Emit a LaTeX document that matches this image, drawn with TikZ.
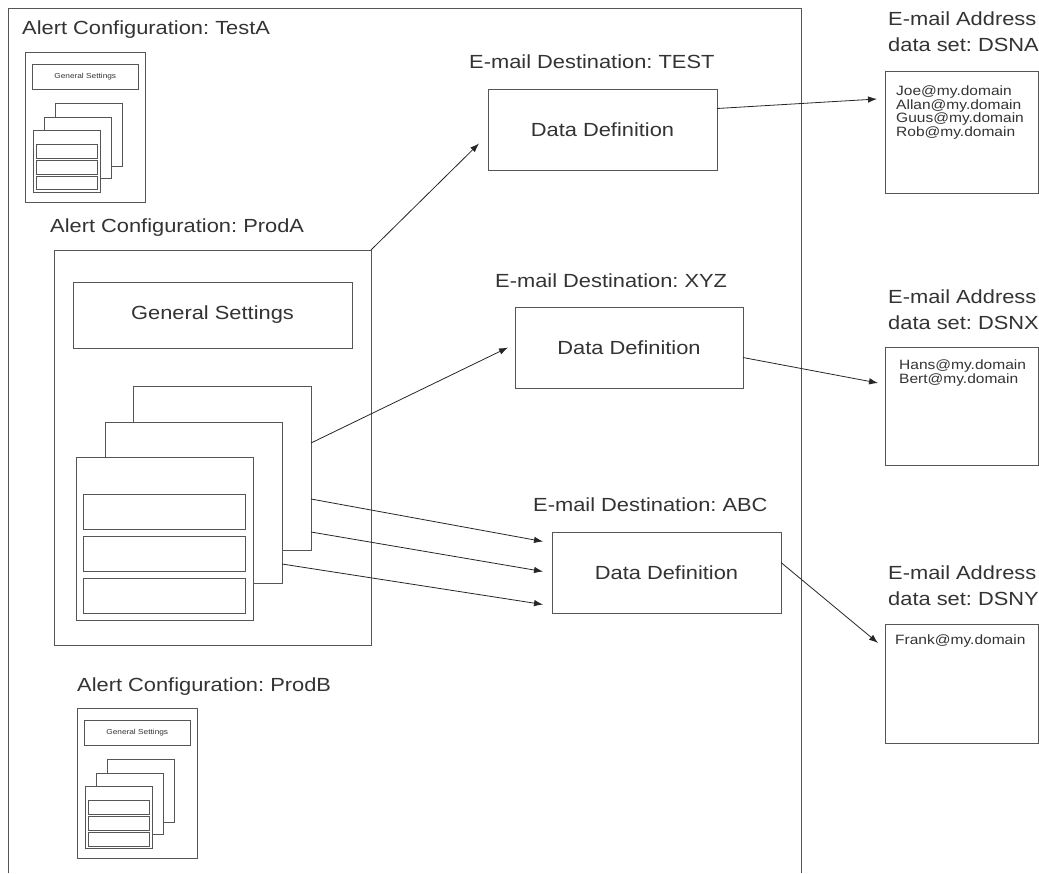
\documentclass[tikz,border=0pt]{standalone}
\usepackage{fontspec}
\setmainfont{Liberation Sans}[FakeStretch=1.15]
\usetikzlibrary{arrows.meta}
\frenchspacing

\definecolor{linegray}{HTML}{555555}
\definecolor{textgray}{HTML}{333333}

\tikzset{
  frm/.style={draw=linegray, line width=0.9pt, fill=white, inner sep=0pt, outer sep=0pt, anchor=north west},
  lbl/.style={font=\fontsize{19}{26}\selectfont, text=textgray, inner sep=0pt, anchor=west, align=left},
  mail/.style={font=\fontsize{13.5}{13.5}\selectfont, text=textgray, inner sep=0pt, anchor=north west, align=left},
  link/.style={draw=black!85, line width=0.8pt, -{Latex[length=9pt,width=6.5pt]}},
  % one alert configuration, drawn from its top left corner
  pics/alertcfg/.style={code={
    \node[frm, minimum width=317pt, minimum height=395pt] (-box) at (0,0) {};
    \node[frm, minimum width=279pt, minimum height=66pt, text=textgray, font=\fontsize{19}{23}\selectfont] (-gen) at (19,32) {General Settings};
    \node[frm, minimum width=178pt, minimum height=164pt] (-back) at (79,136) {};
    \node[frm, minimum width=177pt, minimum height=161pt] (-mid) at (51,172) {};
    \node[frm, minimum width=177pt, minimum height=163pt] (-front) at (22,207) {};
    \node[frm, minimum width=162pt, minimum height=35pt] (-rowa) at (29,244) {};
    \node[frm, minimum width=162pt, minimum height=35pt] (-rowb) at (29,286) {};
    \node[frm, minimum width=162pt, minimum height=35pt] (-rowc) at (29,328) {};
  }}
}

\begin{document}
\begin{tikzpicture}[x=1pt,y=-1pt]
  \useasboundingbox (0,0) rectangle (1039,873);

  % frame of the alert configurations
  \draw[linegray, line width=0.9pt] (8,873) -- (8,8) -- (801,8) -- (801,873);

  \node[lbl] (lbltesta) at (22,30) {Alert Configuration: TestA};
  \pic[scale=0.38, transform shape] (testA) at (25,52) {alertcfg};

  \node[lbl] (lblproda) at (50,228) {Alert Configuration: ProdA};
  \pic (prodA) at (54,250) {alertcfg};

  \node[lbl] (lblprodb) at (77,687) {Alert Configuration: ProdB};
  \pic[scale=0.38, transform shape] (prodB) at (77,708) {alertcfg};

  % e-mail destinations
  \node[lbl] (lbltest) at (469,62) {E-mail Destination: TEST};
  \node[frm, minimum width=229pt, minimum height=81pt, text=textgray, font=\fontsize{19}{23}\selectfont] (test) at (488,89) {Data Definition};

  \node[lbl] (lblxyz) at (495,281) {E-mail Destination: XYZ};
  \node[frm, minimum width=228pt, minimum height=81pt, text=textgray, font=\fontsize{19}{23}\selectfont] (xyz) at (515,307) {Data Definition};

  \node[lbl] (lblabc) at (533,505) {E-mail Destination: ABC};
  \node[frm, minimum width=229pt, minimum height=81pt, text=textgray, font=\fontsize{19}{23}\selectfont] (abc) at (552,532) {Data Definition};

  % e-mail address data sets
  \node[lbl] (lbldsna) at (888,31.5) {E-mail Address\\data set: DSNA};
  \node[frm, minimum width=153pt, minimum height=122pt] (dsna) at (885,71) {};
  \node[mail] (maila) at (896,86) {Joe@my.domain\\Allan@my.domain\\Guus@my.domain\\Rob@my.domain};

  \node[lbl] (lbldsnx) at (888,309.5) {E-mail Address\\data set: DSNX};
  \node[frm, minimum width=153pt, minimum height=118pt] (dsnx) at (885,347) {};
  \node[mail] (mailx) at (899,360) {Hans@my.domain\\Bert@my.domain};

  \node[lbl] (lbldsny) at (888,585.5) {E-mail Address\\data set: DSNY};
  \node[frm, minimum width=153pt, minimum height=119pt] (dsny) at (885,624) {};
  \node[mail] (maily) at (895,635) {Frank@my.domain};

  % connections
  \draw[link] (prodA-box.north east) -- ([xshift=-9pt,yshift=-14pt]test.west);
  \draw[link] ([yshift=-57pt]prodA-back.north east) -- ([xshift=-7pt]xyz.west);
  \draw[link] ([yshift=-113pt]prodA-back.north east) -- ([xshift=-9pt,yshift=31pt]abc.west);
  \draw[link] ([yshift=-146pt]prodA-back.north east) -- ([xshift=-9pt,yshift=1pt]abc.west);
  \draw[link] ([yshift=-142pt]prodA-mid.north east) -- ([xshift=-9pt,yshift=-32pt]abc.west);

  \draw[link] ([yshift=21pt]test.east) -- ([xshift=-8pt,yshift=-28pt]dsna.north west);
  \draw[link] ([yshift=-10pt]xyz.east) -- ([xshift=-7pt,yshift=-36pt]dsnx.north west);
  \draw[link] ([yshift=10pt]abc.east) -- ([xshift=-7pt,yshift=-19pt]dsny.north west);
\end{tikzpicture}
\end{document}
